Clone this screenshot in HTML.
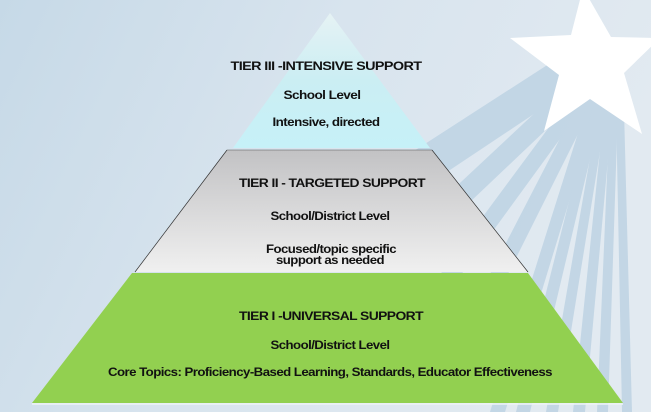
<!DOCTYPE html>
<html><head><meta charset="utf-8"><style>
html,body{margin:0;padding:0;width:651px;height:412px;overflow:hidden}
svg{display:block}
text{font-family:"Liberation Sans",Arial,sans-serif;font-weight:bold;font-size:12px;letter-spacing:-0.5px;fill:#111;text-anchor:middle}
</style></head><body>
<svg width="651" height="412" viewBox="0 0 651 412">
<defs>
<linearGradient id="bg" x1="0" y1="0" x2="1" y2="0.3">
<stop offset="0" stop-color="#c6d9e7"/><stop offset="0.5" stop-color="#d8e4ee"/><stop offset="1" stop-color="#e2eaf1"/>
</linearGradient>
<linearGradient id="t3" x1="0" y1="0" x2="0" y2="1">
<stop offset="0" stop-color="#e6f2f4"/><stop offset="0.5" stop-color="#cbeef3"/><stop offset="1" stop-color="#c6f1f8"/>
</linearGradient>
<linearGradient id="t2" x1="0" y1="0" x2="0" y2="1">
<stop offset="0" stop-color="#c2c2c4"/><stop offset="1" stop-color="#f0f0f0"/>
</linearGradient>
</defs>
<rect width="651" height="412" fill="url(#bg)"/>
<g fill="#bcd2e3" opacity="0.8">
<polygon points="555,60 585,80 420,190 400,160"/>
<polygon points="570,80 588,90 430,240 415,225"/>
<polygon points="578,88 592,95 450,290 436,280"/>
<polygon points="584,92 596,98 475,340 460,332"/>
<polygon points="590,95 600,100 505,412 490,412"/>
<polygon points="595,98 604,100 530,412 516,412"/>
<polygon points="600,100 608,102 558,412 546,412"/>
<polygon points="605,102 613,104 585,412 573,412"/>
<polygon points="610,104 618,106 608,412 597,412"/>
<polygon points="616,108 624,110 632,412 622,412"/>
</g>
<polygon points="583,-12 611,37 660,38 624,73 642,134 590,99 544,131 559,75 510,38 571,35" fill="#ffffff"/>
<polygon points="330,13 233,148 430,148" fill="url(#t3)"/>
<polygon points="227,150 432,150 528,272 135,272" fill="url(#t2)"/>
<line x1="227" y1="150" x2="135" y2="272" stroke="#333" stroke-width="0.7"/>
<line x1="432" y1="150" x2="528" y2="272" stroke="#333" stroke-width="0.7"/>
<line x1="227" y1="150" x2="432" y2="150" stroke="#555" stroke-width="0.6"/>
<polygon points="132,273 528,273 623,403 32,403" fill="#92d050"/>
<line x1="32" y1="404" x2="623" y2="404" stroke="#eef3f6" stroke-width="1.5"/>
<text x="326" y="70" textLength="191" lengthAdjust="spacingAndGlyphs">TIER III -INTENSIVE  SUPPORT</text>
<text x="322" y="99" textLength="77" lengthAdjust="spacingAndGlyphs">School Level</text>
<text x="326" y="126" textLength="107" lengthAdjust="spacingAndGlyphs">Intensive, directed</text>
<text x="332" y="187" textLength="186" lengthAdjust="spacingAndGlyphs">TIER II - TARGETED SUPPORT</text>
<text x="330" y="220" textLength="119" lengthAdjust="spacingAndGlyphs">School/District Level</text>
<text x="331" y="253" textLength="130" lengthAdjust="spacingAndGlyphs">Focused/topic specific</text>
<text x="330" y="264" textLength="108" lengthAdjust="spacingAndGlyphs">support as needed</text>
<text x="331" y="320" textLength="184" lengthAdjust="spacingAndGlyphs">TIER I -UNIVERSAL SUPPORT</text>
<text x="330" y="349" textLength="119" lengthAdjust="spacingAndGlyphs">School/District Level</text>
<text x="330" y="376" textLength="444" lengthAdjust="spacingAndGlyphs">Core Topics: Proficiency-Based Learning, Standards, Educator Effectiveness</text>
</svg>
</body></html>
